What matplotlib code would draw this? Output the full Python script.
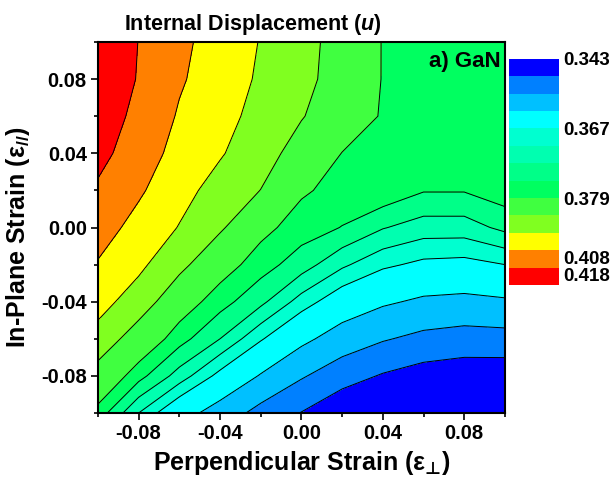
import numpy as np
import matplotlib
matplotlib.use("Agg")
import matplotlib.pyplot as plt

plt.rcParams["font.family"] = ["Liberation Sans", "DejaVu Sans"]
plt.rcParams["font.weight"] = "bold"
plt.rcParams["mathtext.fontset"] = "custom"
plt.rcParams["mathtext.rm"] = "Liberation Sans:bold"
plt.rcParams["mathtext.it"] = "Liberation Sans:italic:bold"
plt.rcParams["mathtext.bf"] = "Liberation Sans:bold"
plt.rcParams["mathtext.sf"] = "DejaVu Sans:bold"

# strain grid (perpendicular along x, in-plane along y)
eps_perp = [-0.10, -0.08, -0.06, -0.04, -0.02, 0.00, 0.02, 0.04, 0.06, 0.08, 0.10]
eps_par = [0.10, 0.08, 0.06, 0.04, 0.02, 0.00, -0.02, -0.04, -0.06, -0.08, -0.10]

# internal displacement u, one row per in-plane strain (top to bottom)
u_p10 = [0.4180, 0.4078, 0.4016, 0.3970, 0.3927, 0.3882, 0.3835, 0.3788, 0.3786, 0.3786, 0.3784]
u_p08 = [0.4155, 0.4074, 0.4008, 0.3964, 0.3921, 0.3878, 0.3833, 0.3788, 0.3784, 0.3784, 0.3784]
u_p06 = [0.4130, 0.4057, 0.3993, 0.3952, 0.3909, 0.3864, 0.3819, 0.3786, 0.3781, 0.3781, 0.3783]
u_p04 = [0.4105, 0.4037, 0.3976, 0.3936, 0.3889, 0.3831, 0.3789, 0.3784, 0.3775, 0.3777, 0.3781]
u_p02 = [0.4068, 0.4010, 0.3953, 0.3904, 0.3859, 0.3795, 0.3778, 0.3782, 0.3762, 0.3762, 0.3777]
u_00 = [0.4031, 0.3977, 0.3927, 0.3869, 0.3801, 0.3774, 0.3759, 0.3732, 0.3716, 0.3716, 0.3738]
u_m02 = [0.3995, 0.3945, 0.3878, 0.3808, 0.3773, 0.3745, 0.3706, 0.3677, 0.3662, 0.3659, 0.3670]
u_m04 = [0.3955, 0.3897, 0.3812, 0.3772, 0.3738, 0.3687, 0.3645, 0.3618, 0.3601, 0.3596, 0.3603]
u_m06 = [0.3905, 0.3823, 0.3772, 0.3730, 0.3674, 0.3624, 0.3583, 0.3555, 0.3535, 0.3525, 0.3528]
u_m08 = [0.3829, 0.3771, 0.3717, 0.3659, 0.3606, 0.3556, 0.3515, 0.3485, 0.3464, 0.3455, 0.3453]
u_m10 = [0.3778, 0.3700, 0.3634, 0.3585, 0.3530, 0.3488, 0.3444, 0.3436, 0.3436, 0.3436, 0.3436]

levels = [0.343, 0.349, 0.355, 0.361, 0.367, 0.370, 0.373, 0.376,
          0.379, 0.386, 0.393, 0.400, 0.408, 0.418]
band_colors = ["#0000FF", "#0080FF", "#00C0FF", "#00FFFF", "#00FFD0",
               "#00FFB0", "#00FF88", "#00FF60", "#40FF40", "#80FF20",
               "#FFFF00", "#FF8000", "#FF0000"]
cbar_ticks = [0.343, 0.367, 0.379, 0.408, 0.418]

u = np.array([u_p10, u_p08, u_p06, u_p04, u_p02, u_00,
              u_m02, u_m04, u_m06, u_m08, u_m10])

fig = plt.figure(figsize=(6.12, 4.84), dpi=100)
ax = fig.add_axes([0.160, 0.1467, 0.665, 0.7665])

cs = ax.contourf(eps_perp, eps_par, u, levels=levels, colors=band_colors)
ax.contour(eps_perp, eps_par, u, levels=levels[1:-1], colors="black",
           linewidths=0.7)

ax.set_xlim(-0.1, 0.1)
ax.set_ylim(-0.1, 0.1)
ax.set_xticks([-0.08, -0.04, 0.00, 0.04, 0.08])
ax.set_yticks([-0.08, -0.04, 0.00, 0.04, 0.08])
ax.set_xticks([-0.10, -0.06, -0.02, 0.02, 0.06, 0.10], minor=True)
ax.set_yticks([-0.10, -0.06, -0.02, 0.02, 0.06, 0.10], minor=True)
ax.xaxis.set_major_formatter(plt.FormatStrFormatter("%.2f"))
ax.yaxis.set_major_formatter(plt.FormatStrFormatter("%.2f"))
ax.tick_params(which="major", direction="out", length=5, width=1.2,
               labelsize=14.5, pad=3)
ax.tick_params(which="minor", direction="out", length=3, width=1.2)
for spine in ax.spines.values():
    spine.set_linewidth(1.5)

ax.set_xlabel("Perpendicular Strain (ε$_{\\mathsf{⊥}}$)", fontsize=18,
              fontweight="bold", labelpad=4)
ax.set_ylabel("In-Plane Strain (ε$_{//}$)", fontsize=18,
              fontweight="bold")
ax.yaxis.set_label_coords(-0.163, 0.475)
ax.text(0.99, 0.975, "a) GaN", transform=ax.transAxes, ha="right",
        va="top", fontsize=16, fontweight="bold")

fig.text(0.413, 0.950, "Internal Displacement ($u$)", ha="center",
         va="center", fontsize=15.5, fontweight="bold")

cax = fig.add_axes([0.8317, 0.4112, 0.0817, 0.467])
cbar = fig.colorbar(cs, cax=cax, spacing="uniform", ticks=cbar_ticks)
cax.invert_yaxis()
cbar.outline.set_visible(False)
cax.tick_params(length=0, labelsize=13.5, pad=3)
cax.set_yticklabels(["%.3f" % t for t in cbar_ticks])
for lab in cax.get_yticklabels()[-2:]:
    lab.set_va("bottom")

fig.savefig("out.png", dpi=100)
